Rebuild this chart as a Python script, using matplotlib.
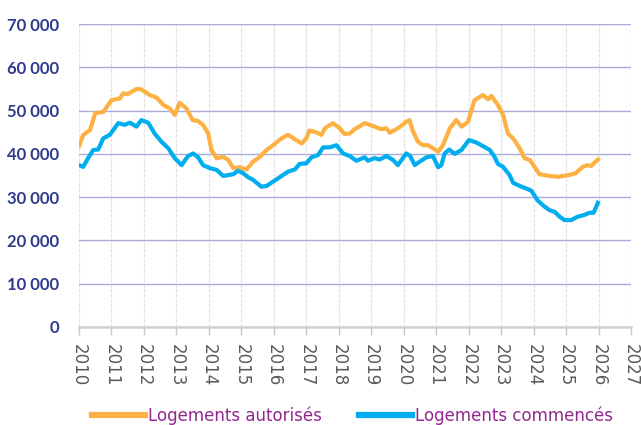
import matplotlib
matplotlib.use("Agg")
import matplotlib.pyplot as plt
from matplotlib.ticker import FuncFormatter

# --- data ---
auth_t = [2010.00, 2010.13, 2010.34, 2010.50, 2010.75, 2011.00, 2011.26, 2011.36, 2011.50,
          2011.77, 2011.92, 2012.18, 2012.39, 2012.60, 2012.80, 2012.95, 2013.10, 2013.31,
          2013.50, 2013.66, 2013.82, 2013.98, 2014.08, 2014.24, 2014.44, 2014.60, 2014.75,
          2014.95, 2015.16, 2015.36, 2015.57, 2015.78, 2015.98, 2016.24, 2016.44, 2016.60,
          2016.86, 2017.00, 2017.10, 2017.26, 2017.47, 2017.57, 2017.82, 2018.03, 2018.18,
          2018.34, 2018.49, 2018.80, 2019.10, 2019.31, 2019.47, 2019.57, 2019.82, 2020.08,
          2020.18, 2020.28, 2020.44, 2020.59, 2020.75, 2020.90, 2021.06, 2021.21, 2021.42,
          2021.62, 2021.78, 2021.98, 2022.18, 2022.44, 2022.60, 2022.70, 2022.90, 2023.06,
          2023.21, 2023.37, 2023.57, 2023.72, 2023.88, 2024.03, 2024.18, 2024.49, 2024.75,
          2024.90, 2025.10, 2025.31, 2025.51, 2025.67, 2025.77, 2025.98]
auth_v = [41800, 44350, 45500, 49400, 49700, 52400, 52800, 54000, 53800,
          55000, 54900, 53600, 53000, 51300, 50500, 49000, 51800, 50500,
          47800, 47600, 46700, 44700, 40900, 39000, 39300, 38600, 36700,
          36900, 36400, 38200, 39300, 40900, 42000, 43600, 44400, 43600,
          42400, 43600, 45400, 45100, 44400, 45900, 47100, 45900, 44600,
          44700, 45700, 47100, 46300, 45700, 45900, 44900, 45900, 47400,
          47800, 45300, 42800, 42000, 42000, 41300, 40500, 42000, 45900,
          47800, 46300, 47400, 52400, 53600, 52600, 53400, 51300, 49000,
          44700, 43600, 41300, 39000, 38600, 37000, 35300, 34900, 34700,
          34900, 35100, 35600, 37000, 37400, 37200, 38700]

start_t = [2010.00, 2010.13, 2010.28, 2010.44, 2010.59, 2010.75, 2010.95, 2011.21, 2011.41,
           2011.57, 2011.77, 2011.92, 2012.13, 2012.33, 2012.54, 2012.75, 2012.95, 2013.16,
           2013.36, 2013.52, 2013.67, 2013.82, 2014.03, 2014.24, 2014.44, 2014.75, 2014.90,
           2015.06, 2015.21, 2015.36, 2015.62, 2015.78, 2015.98, 2016.24, 2016.44, 2016.65,
           2016.80, 2017.00, 2017.16, 2017.36, 2017.52, 2017.72, 2017.93, 2018.13, 2018.34,
           2018.54, 2018.80, 2018.90, 2019.10, 2019.26, 2019.47, 2019.67, 2019.82, 2020.08,
           2020.20, 2020.34, 2020.49, 2020.70, 2020.90, 2021.06, 2021.16, 2021.26, 2021.40,
           2021.57, 2021.78, 2022.01, 2022.24, 2022.44, 2022.65, 2022.80, 2022.90, 2023.06,
           2023.26, 2023.37, 2023.57, 2023.77, 2023.93, 2024.13, 2024.34, 2024.49, 2024.65,
           2024.80, 2024.95, 2025.16, 2025.36, 2025.57, 2025.72, 2025.85, 2025.98]
start_v = [37400, 37000, 39000, 40900, 41000, 43600, 44400, 47100, 46700,
           47200, 46300, 47800, 47200, 44700, 42800, 41300, 39000, 37400,
           39500, 40100, 39200, 37400, 36700, 36300, 34900, 35300, 36100,
           35500, 34600, 34000, 32400, 32600, 33600, 34900, 35900, 36400,
           37700, 37800, 39200, 39700, 41500, 41500, 42000, 40100, 39500,
           38400, 39200, 38400, 39000, 38700, 39500, 38600, 37400, 40100,
           39500, 37400, 38200, 39200, 39500, 36900, 37400, 40100, 41000,
           40000, 40900, 43200, 42600, 41800, 40900, 39300, 37700, 37000,
           35100, 33300, 32600, 32000, 31500, 29200, 27800, 27000, 26600,
           25500, 24700, 24700, 25500, 25900, 26400, 26400, 28700]

years = list(range(2010, 2028))
yticks = [0, 10000, 20000, 30000, 40000, 50000, 60000, 70000]
label_auth = "Logements autorisés"
label_start = "Logements commencés"

ORANGE = "#FDB143"
BLUE = "#00AEEF"

fig = plt.figure(figsize=(6.41, 4.25), dpi=100)
ax = fig.add_axes([0.1232, 0.2306, 0.8612, 0.7129])

ax.plot(auth_t, auth_v, color=ORANGE, lw=3.0, solid_joinstyle="round", label=label_auth)
ax.plot(start_t, start_v, color=BLUE, lw=3.0, solid_joinstyle="round", label=label_start)

ax.set_xlim(2010, 2027)
ax.set_ylim(0, 70000)
ax.set_xticks(years)
ax.set_xticklabels([str(y) for y in years], rotation=270, fontsize=12,
                   color="#595959", family="DejaVu Sans")
ax.set_yticks(yticks)
ax.yaxis.set_major_formatter(FuncFormatter(lambda v, p: f"{int(v):,}".replace(",", " ")))
for lab in ax.get_yticklabels():
    lab.set_fontweight("bold")
    lab.set_fontsize(12)
    lab.set_color("#2E3A8C")
    lab.set_family("Lato")

ax.tick_params(axis="y", length=0, pad=14)
ax.tick_params(axis="x", length=6, width=1, color="#C8C8C8", pad=6)

ax.grid(axis="y", color="#A7ACD9", lw=1.0)
ax.grid(axis="x", color="#E2E2E2", lw=0.9, ls=(0, (3, 1)))
ax.set_axisbelow(True)

for s in ["left", "right", "top"]:
    ax.spines[s].set_visible(False)
ax.spines["bottom"].set_color("#D0D0D0")
ax.spines["bottom"].set_linewidth(1.8)

leg = fig.legend(loc="lower center", bbox_to_anchor=(0.55, -0.035), ncol=2, frameon=False,
                 fontsize=12, handlelength=3.2, handletextpad=0.2, columnspacing=2.2)
for line in leg.get_lines():
    line.set_linewidth(4.5)
for t in leg.get_texts():
    t.set_color("#93278F")

fig.savefig("out.png", dpi=100)
